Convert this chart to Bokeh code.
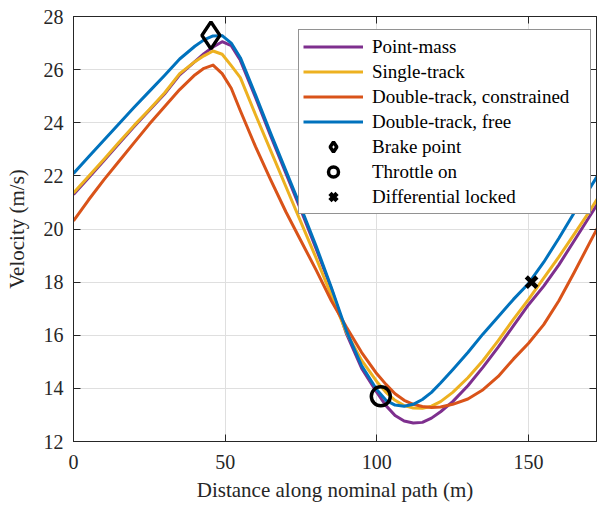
from bokeh.plotting import figure
from bokeh.models import Range1d, FixedTicker, LinearAxis, Legend, LegendItem
from bokeh.embed import file_html
from bokeh.resources import INLINE

# Distance along nominal path (m)
distance = [0, 5, 10, 15, 20, 25, 30, 35, 40, 43, 46, 49, 52, 55, 60, 65, 70, 75, 80, 85,
            90, 95, 100, 103, 106, 109, 112, 115, 118, 121, 125, 130, 135, 140, 145, 150,
            155, 160, 165, 170, 173]

# Velocity (m/s) per model
v_point_mass = [21.30, 21.93, 22.57, 23.22, 23.86, 24.47, 25.08, 25.80, 26.30, 26.60, 26.85,
                27.05, 26.90, 26.35, 24.95, 23.50, 22.10, 20.70, 19.25, 17.75, 16.05, 14.75,
                13.85, 13.35, 12.98, 12.77, 12.70, 12.72, 12.88, 13.12, 13.50, 14.10, 14.80,
                15.55, 16.35, 17.15, 17.85, 18.65, 19.55, 20.45, 21.00]
v_single_track = [21.36, 21.99, 22.62, 23.27, 23.90, 24.50, 25.12, 25.85, 26.30, 26.52, 26.70,
                  26.58, 26.15, 25.70, 24.30, 22.95, 21.60, 20.25, 18.90, 17.50, 16.10, 15.05,
                  14.25, 13.85, 13.55, 13.35, 13.26, 13.25, 13.33, 13.50, 13.85, 14.40, 15.05,
                  15.80, 16.60, 17.35, 18.15, 18.95, 19.80, 20.65, 21.20]
v_double_constrained = [20.31, 21.10, 21.85, 22.55, 23.25, 23.95, 24.60, 25.25, 25.80, 26.05, 26.17,
                        25.85, 25.30, 24.45, 23.10, 21.85, 20.65, 19.55, 18.45, 17.30, 16.30, 15.35,
                        14.55, 14.15, 13.80, 13.55, 13.40, 13.32, 13.28, 13.30, 13.40, 13.60, 13.95,
                        14.45, 15.10, 15.70, 16.40, 17.30, 18.35, 19.45, 20.10]
v_double_free = [22.09, 22.72, 23.34, 23.96, 24.58, 25.18, 25.78, 26.40, 26.88, 27.12, 27.27,
                 27.28, 27.00, 26.45, 25.05, 23.60, 22.20, 20.80, 19.35, 17.80, 16.15, 14.85,
                 13.95, 13.55, 13.37, 13.33, 13.40, 13.58, 13.85, 14.20, 14.70, 15.35, 16.05,
                 16.70, 17.35, 17.95, 18.75, 19.65, 20.60, 21.50, 22.05]

# Event markers
brake_x = [45.3]
brake_v = [27.29]
throttle_x = [101.3]
throttle_v = [13.70]
diff_x = [151.0]
diff_v = [18.0]

x_ticks = [0, 50, 100, 150]
y_ticks = [12, 14, 16, 18, 20, 22, 24, 26, 28]

FONT = "'Liberation Serif', 'Times New Roman', serif"
DARK = "#262626"

p = figure(width=597, height=508, output_backend="svg", toolbar_location=None,
           x_range=Range1d(0, 172.4), y_range=Range1d(12, 28),
           min_border_left=73, min_border_right=1, min_border_top=16, min_border_bottom=67,
           background_fill_color="white", border_fill_color="white")

p.outline_line_color = DARK
p.grid.grid_line_color = "#dfdfdf"
p.grid.grid_line_width = 1

p.xaxis.ticker = FixedTicker(ticks=x_ticks)
p.yaxis.ticker = FixedTicker(ticks=y_ticks)
p.xaxis.axis_label = "Distance along nominal path (m)"
p.yaxis.axis_label = "Velocity (m/s)"
for ax in (p.xaxis, p.yaxis):
    ax.axis_label_text_font = FONT
    ax.axis_label_text_font_size = "21px"
    ax.axis_label_text_font_style = "normal"
    ax.axis_label_text_color = DARK
    ax.major_label_text_font = FONT
    ax.major_label_text_font_size = "20px"
    ax.major_label_text_color = DARK
    ax.axis_line_color = DARK
    ax.major_tick_line_color = DARK
    ax.major_tick_in = 7
    ax.major_tick_out = 0
    ax.minor_tick_in = 0
    ax.minor_tick_out = 0
p.xaxis.major_label_standoff = 13
p.xaxis.axis_label_standoff = 6
p.yaxis.major_label_standoff = 10
p.yaxis.axis_label_standoff = 12

for loc, tk in (("right", y_ticks), ("above", x_ticks)):
    ax = LinearAxis(ticker=FixedTicker(ticks=tk), major_label_text_font_size="0px",
                    major_label_text_alpha=0, major_label_standoff=0,
                    major_tick_in=7, major_tick_out=0, minor_tick_in=0, minor_tick_out=0,
                    axis_line_color=DARK, major_tick_line_color=DARK)
    p.add_layout(ax, loc)

r_pm = p.line(distance, v_point_mass, line_color="#7E2F8E", line_width=3, line_join="round")
r_st = p.line(distance, v_single_track, line_color="#EDB120", line_width=3, line_join="round")
r_dc = p.line(distance, v_double_constrained, line_color="#D95319", line_width=3, line_join="round")
r_df = p.line(distance, v_double_free, line_color="#0072BD", line_width=3, line_join="round")

r_brake = p.scatter(brake_x, brake_v, marker="diamond", size=27, fill_color=None,
                    line_color="black", line_width=3.5)
r_thr = p.scatter(throttle_x, throttle_v, marker="circle", size=19, fill_color=None,
                  line_color="black", line_width=3.5)
r_diff = p.scatter(diff_x, diff_v, marker="x", size=15, line_color="black", line_width=4.5)

legend = Legend(items=[
    LegendItem(label="Point-mass", renderers=[r_pm]),
    LegendItem(label="Single-track", renderers=[r_st]),
    LegendItem(label="Double-track, constrained", renderers=[r_dc]),
    LegendItem(label="Double-track, free", renderers=[r_df]),
    LegendItem(label="Brake point", renderers=[r_brake]),
    LegendItem(label="Throttle on", renderers=[r_thr]),
    LegendItem(label="Differential locked", renderers=[r_diff]),
], location=(225, 227), glyph_width=60, glyph_height=25, label_height=25, spacing=0,
   padding=4, margin=0, label_standoff=9, label_width=214,
   label_text_font=FONT, label_text_font_size="19px", label_text_color="black",
   border_line_color=DARK, border_line_width=1,
   background_fill_color="white", background_fill_alpha=1.0)
p.add_layout(legend)

open("out.html", "w").write(file_html(p, INLINE))
